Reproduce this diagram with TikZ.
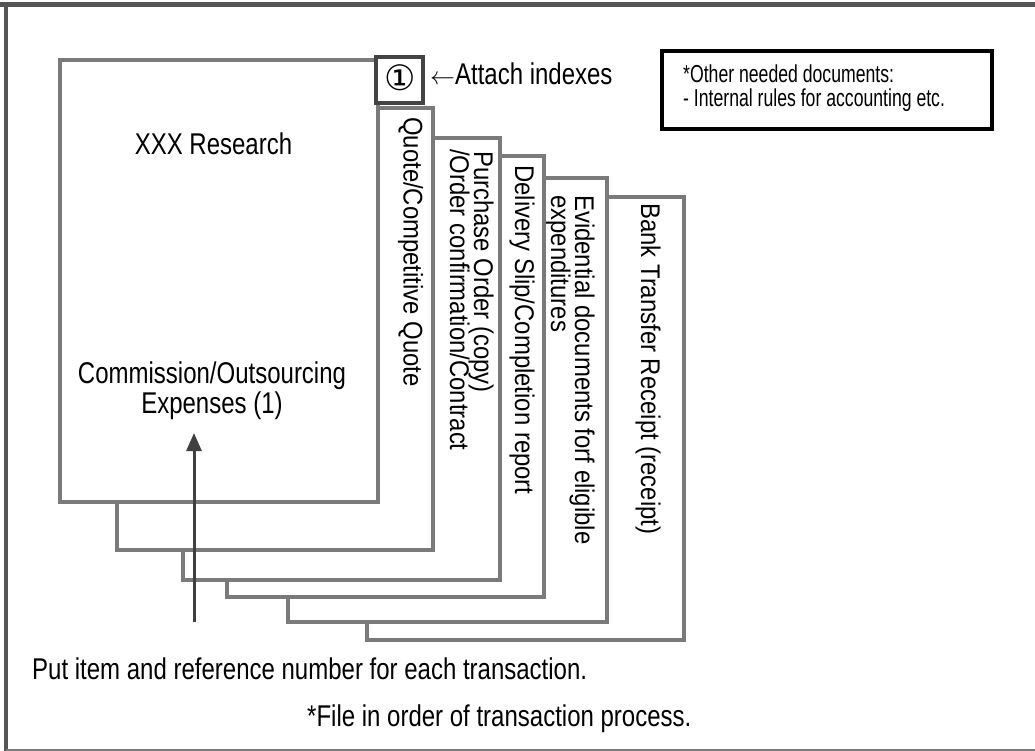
\documentclass[tikz,border=0pt]{standalone}
\usepackage{fontspec}
\setmainfont{Liberation Sans}
\newfontfamily\hfont[FakeStretch=0.8]{Liberation Sans}
\newfontfamily\vfont[FakeStretch=0.885]{Liberation Sans}
\newfontfamily\nfont[FakeStretch=0.72]{Liberation Sans}
\newfontfamily\djv{DejaVu Sans}
\usetikzlibrary{arrows.meta}
\definecolor{pagegray}{HTML}{7A7A7A}
\definecolor{framegray}{HTML}{555555}
\definecolor{idxgray}{HTML}{444444}
\definecolor{arrowgray}{HTML}{404040}
\begin{document}
\begin{tikzpicture}[x=1pt,y=-1pt,
  page/.style={draw=pagegray, line width=3.2pt, fill=white, rectangle, inner sep=0pt, outer sep=0pt, anchor=north west},
  htext/.style={font=\hfont\fontsize{30}{30}\selectfont, inner sep=0pt, text=black},
  vtext/.style={font=\vfont\fontsize{27}{24}\selectfont, inner sep=0pt, rotate=-90, anchor=base west, text=black},
  ntext/.style={font=\nfont\fontsize{24.5}{25}\selectfont, inner sep=0pt, anchor=base west, text=black},
]
\useasboundingbox (0,0) rectangle (1035,751);
\fill[white] (0,0) rectangle (1035,751);
% frame
\draw[line width=5pt, color=framegray] (0,4.5) -- (1035,4.5);
\draw[line width=4pt, color=framegray] (6,2) -- (6,751);
\draw[line width=2pt, color=pagegray] (6,750) -- (1035,750);

% pages, back to front
\node[page, minimum width=317pt, minimum height=443pt] (p6) at (367,197) {};
\node[vtext] (bk) at (641,203) {Bank Transfer Receipt (receipt)};

\node[page, minimum width=319pt, minimum height=444pt] (p5) at (288,178) {};
\node[vtext] (ev1) at (575,195) {Evidential documents forf eligible};
\node[vtext] (ev2) at (551,195) {expenditures};

\node[page, minimum width=317pt, minimum height=441pt] (p4) at (227,156) {};
\node[vtext] (dl) at (515,165) {Delivery Slip/Completion report};

\node[page, minimum width=317pt, minimum height=442pt] (p3) at (183,138) {};
\node[vtext] (po1) at (474,151) {Purchase Order (copy)};
\node[vtext] (po2) at (450,149) {/Order confirmation/Contract};

\node[page, minimum width=316pt, minimum height=442pt] (p2) at (117,108) {};
\node[vtext] (q) at (403.5,117) {Quote/Competitive Quote};

\node[page, minimum width=318pt, minimum height=442pt] (p1) at (60,60) {};
\node[htext, anchor=base] (title) at (213.5,155) {XXX Research};
\node[htext, anchor=base] (comm1) at (212,383) {Commission/Outsourcing};
\node[htext, anchor=base] (comm2) at (212,413) {Expenses (1)};

% index box
\node[draw=idxgray, line width=3.5pt, fill=white, rectangle, minimum width=47pt, minimum height=46pt, inner sep=0pt, outer sep=0pt, anchor=north west] (idx) at (376,57) {};
\node[font=\djv\fontsize{35}{35}\selectfont, inner sep=0pt] (one) at (400,78) {①};
\node[htext, anchor=base west] (attach) at (430,85) {\fontsize{26}{26}\selectfont$\leftarrow$\hfont\fontsize{30}{30}\selectfont Attach indexes};

% note box
\node[draw=black, line width=4pt, fill=white, rectangle, minimum width=330pt, minimum height=78pt, inner sep=0pt, outer sep=0pt, anchor=north west] (note) at (662,51) {};
\node[ntext] (n1) at (683,82.5) {*Other needed documents:};
\node[ntext] (n2) at (683,107) {- Internal rules for accounting etc.};

% arrow
\coordinate (arrS) at (194,622);
\coordinate (arrT) at (194,433);
\draw[line width=3pt, color=arrowgray, -{Triangle[width=15pt,length=18pt]}] (arrS) -- (arrT);

% bottom texts
\node[htext, anchor=base west] (put) at (32,679) {Put item and reference number for each transaction.};
\node[htext, anchor=base west] (file) at (307,726) {*File in order of transaction process.};
\end{tikzpicture}
\end{document}
